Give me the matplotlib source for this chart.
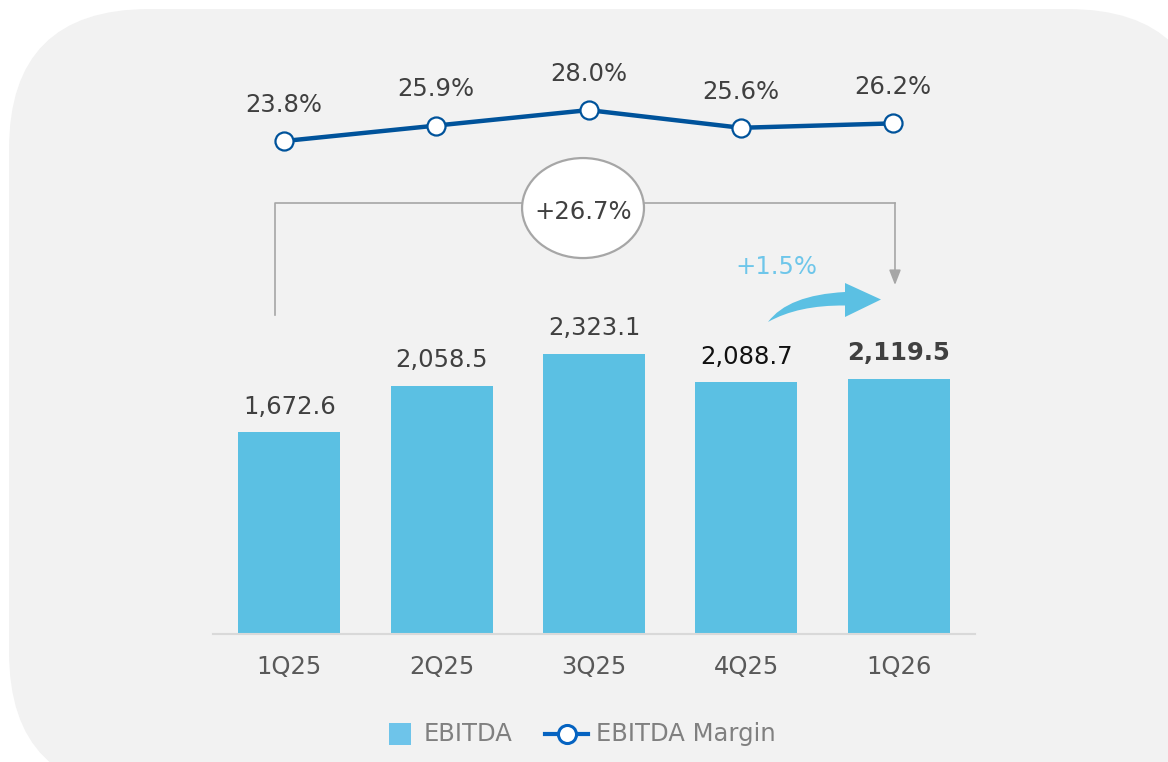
import matplotlib
matplotlib.use("Agg")
import matplotlib.pyplot as plt
import matplotlib.transforms as mtransforms
from matplotlib.patches import FancyBboxPatch, Ellipse, PathPatch, Rectangle
from matplotlib.path import Path
from matplotlib.lines import Line2D

categories = ["1Q25", "2Q25", "3Q25", "4Q25", "1Q26"]
ebitda = [1672.6, 2058.5, 2323.1, 2088.7, 2119.5]
margin = [23.8, 25.9, 28.0, 25.6, 26.2]
ebitda_labels = ["1,672.6", "2,058.5", "2,323.1", "2,088.7", "2,119.5"]
margin_labels = ["23.8%", "25.9%", "28.0%", "25.6%", "26.2%"]
series_names = ["EBITDA", "EBITDA Margin"]
yoy_label = "+26.7%"
qoq_label = "+1.5%"

plt.rcParams['font.family'] = ['DejaVu Sans']
W, H = 1168, 762
fig = plt.figure(figsize=(W / 100, H / 100), dpi=100)
fig.patch.set_facecolor("white")


def fx(px):
    return px / W


def fy(py):
    return 1 - py / H


# rounded background panel
bg = FancyBboxPatch((9 / W, -30 / H), (W + 40) / W - 9 / W, (H - 9 + 30) / H,
                    boxstyle="round,pad=0,rounding_size=0.12",
                    transform=fig.transFigure, facecolor="#F2F2F2",
                    edgecolor="none", mutation_aspect=W / H, zorder=-10)
fig.patches.append(bg)

BAR = "#5BC0E3"
LINE = "#00539B"
GRAY_TXT = "#404040"
BRACKET = "#A6A6A6"
FS = 17.5

ax = fig.add_axes([213 / W, 128 / H, 762 / W, 625 / H])
ax.set_zorder(2)
ax.set_facecolor("none")
x = list(range(len(categories)))
ax.bar(x, ebitda, width=0.67, color=BAR, zorder=2)
ax.set_xlim(-0.5, 4.5)
ax.set_ylim(0, 5187)
for s in ["top", "right", "left"]:
    ax.spines[s].set_visible(False)
ax.spines["bottom"].set_color("#D9D9D9")
ax.spines["bottom"].set_linewidth(1.5)
ax.set_yticks([])
ax.set_xticks(x)
ax.set_xticklabels(categories, fontsize=FS, color="#595959")
ax.tick_params(axis="x", length=0, pad=15)

for i, (v, lab) in enumerate(zip(ebitda, ebitda_labels)):
    weight = "bold" if i == len(ebitda) - 1 else "normal"
    col = "#111111" if i == 3 else GRAY_TXT
    ax.annotate(lab, (i, v), xytext=(0, 18.5), textcoords="offset points",
                ha="center", va="center", fontsize=FS, color=col,
                fontweight=weight)

ax2 = ax.twinx()
ax2.set_zorder(3)
ax2.set_facecolor("none")
ax2.set_ylim(-43.0, 41.7)
ax2.set_yticks([])
for s in ax2.spines.values():
    s.set_visible(False)
shift = mtransforms.offset_copy(ax2.transData, fig=fig, x=-5.5, y=0, units="dots")
ax2.plot(x, margin, color=LINE, lw=3.2, marker="o", markersize=13,
         markerfacecolor="white", markeredgecolor=LINE, markeredgewidth=1.6,
         zorder=5, transform=shift)
for i, (v, lab) in enumerate(zip(margin, margin_labels)):
    ax2.annotate(lab, (i, v), xycoords=shift, xytext=(0, 26),
                 textcoords="offset points",
                 ha="center", va="center", fontsize=FS, color=GRAY_TXT)

# bracket annotation (1Q25 -> 1Q26)
bx0, bx1 = -0.093, 3.975
by_top, by_left, by_tip = 3577, 2647, 2896
ax.plot([bx0, bx0, bx1], [by_left, by_top, by_top], color=BRACKET, lw=1.2,
        clip_on=False, zorder=3)
ax.annotate("", xy=(bx1, by_tip), xytext=(bx1, by_top),
            arrowprops=dict(arrowstyle="-|>,head_length=0.9,head_width=0.35",
                            color=BRACKET, lw=1.2, shrinkA=0, shrinkB=0),
            zorder=3)
ell = Ellipse((1.928, 3535), 0.80, 830, facecolor="white",
              edgecolor=BRACKET, lw=1.6, zorder=4, clip_on=False)
ax.add_patch(ell)
ax.text(1.928, 3500, yoy_label, ha="center", va="center", fontsize=FS,
        color=GRAY_TXT, zorder=5)

# curved arrow (4Q25 -> 1Q26), a tapered swoosh shape in figure pixels
ax.text(3.194, 3046, qoq_label, ha="center", va="center", fontsize=FS,
        color="#6EC6EA")
swoosh_px = [(768, 322), (788, 295), (845, 292), (845, 283), (881, 299.5),
             (845, 317), (845, 305.5), (798, 305), (768, 322), (768, 322)]
codes = [Path.MOVETO, Path.CURVE3, Path.CURVE3, Path.LINETO, Path.LINETO,
         Path.LINETO, Path.LINETO, Path.CURVE3, Path.CURVE3, Path.CLOSEPOLY]
swoosh = Path([(fx(a), fy(b)) for a, b in swoosh_px], codes)
fig.patches.append(PathPatch(swoosh, transform=fig.transFigure,
                             facecolor=BAR, edgecolor="none", zorder=5))

# legend (drawn manually to match spacing)
fig.patches.append(Rectangle((fx(389), fy(745)), fx(22), 22 / H,
                             transform=fig.transFigure, facecolor="#6EC4EA",
                             edgecolor="none", zorder=5))
fig.text(fx(424), fy(734), series_names[0], ha="left", va="center",
         fontsize=FS, color="#808080")
fig.lines.append(Line2D([fx(545), fx(588)], [fy(734), fy(734)],
                        transform=fig.transFigure, color="#0563C1", lw=3,
                        zorder=5))
fig.lines.append(Line2D([fx(566.5)], [fy(734)], transform=fig.transFigure,
                        marker="o", markersize=13, markerfacecolor="white",
                        markeredgecolor="#0563C1", markeredgewidth=2.2,
                        linestyle="none", zorder=6))
fig.text(fx(596), fy(734), series_names[1], ha="left", va="center",
         fontsize=FS, color="#808080")

fig.savefig("out.png", dpi=100)
